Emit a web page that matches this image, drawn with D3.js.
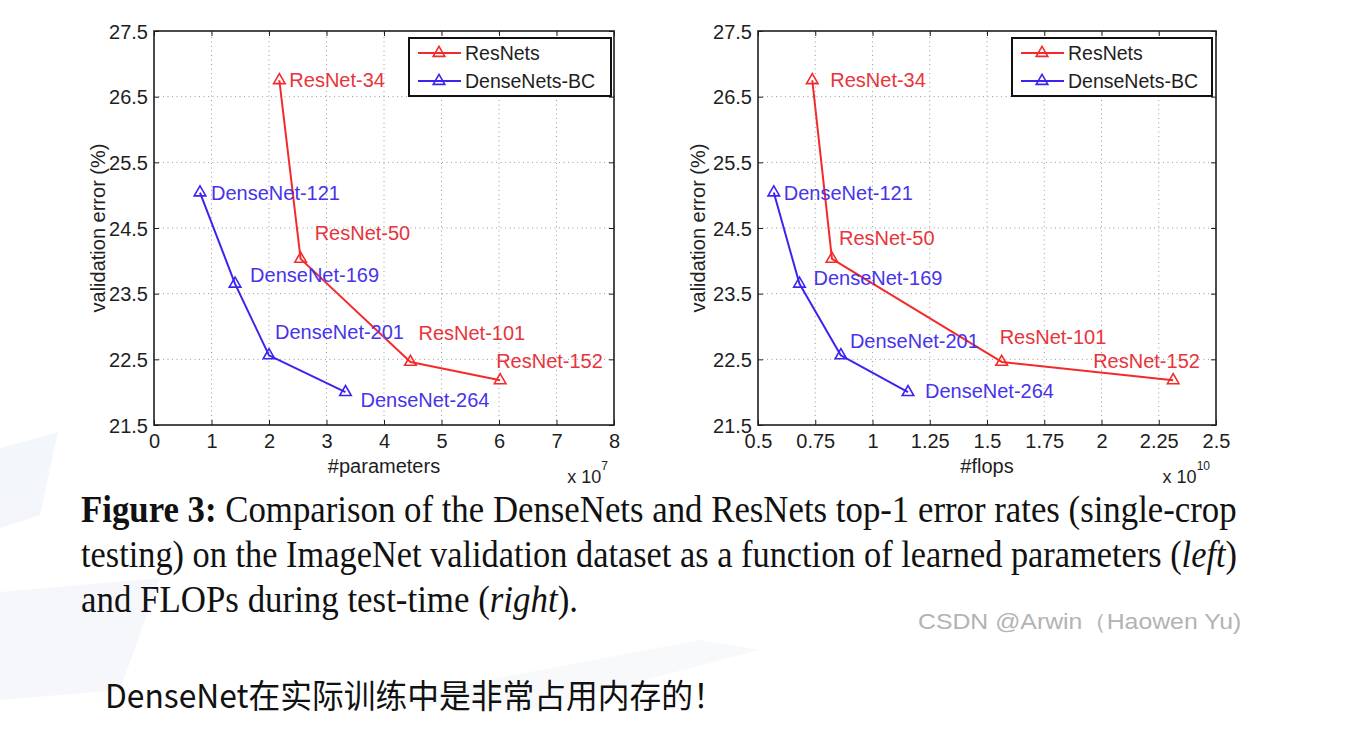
<!DOCTYPE html>
<html>
<head>
<meta charset="utf-8">
<script src="https://cdn.jsdelivr.net/npm/d3@7"></script>
<style>
  html, body { margin: 0; padding: 0; background: #ffffff; }
  svg { display: block; }
</style>
</head>
<body>
<svg id="chart" width="1368" height="732"></svg>
<script>
// ---------------- DATA ----------------
const resnetModels = ["ResNet-34", "ResNet-50", "ResNet-101", "ResNet-152"];
const resnetParams = [2.18, 2.55, 4.46, 6.02];      // x 10^7
const resnetFlops  = [0.737, 0.823, 1.564, 2.313];  // x 10^10
const resnetError  = [26.75, 24.03, 22.46, 22.18];  // %

const densenetModels = ["DenseNet-121", "DenseNet-169", "DenseNet-201", "DenseNet-264"];
const densenetParams = [0.80, 1.41, 2.00, 3.33];
const densenetFlops  = [0.569, 0.681, 0.862, 1.155];
const densenetError  = [25.04, 23.65, 22.56, 22.00];

const seriesNames = ["ResNets", "DenseNets-BC"];
const yTicks = [21.5, 22.5, 23.5, 24.5, 25.5, 26.5, 27.5];
const xTicksParams = [0, 1, 2, 3, 4, 5, 6, 7, 8];
const xTicksFlops = [0.5, 0.75, 1, 1.25, 1.5, 1.75, 2, 2.25, 2.5];

const yTitle = "validation error (%)";
const xTitleLeft = "#parameters";
const xTitleRight = "#flops";
const expLeft = "7";
const expRight = "10";

const captionBold = "Figure 3:";
const captionLine1 = " Comparison of the DenseNets and ResNets top-1 error rates (single-crop";
const captionLine2a = "testing) on the ImageNet validation dataset as a function of learned parameters (";
const captionLine2i = "left";
const captionLine2b = ")";
const captionLine3a = "and FLOPs during test-time (";
const captionLine3i = "right";
const captionLine3b = ").";
const watermark = "CSDN @Arwin（Haowen Yu)";
const noteText = "DenseNet在实际训练中是非常占用内存的！";

// ---------------- STYLE / LAYOUT ----------------
const RED = "#f42a2a", BLUE = "#3b24f0";
const RED_TXT = "#e8343a", BLUE_TXT = "#4634ea";
const AX = "#1e1e1e";
const FONT = "Arial, 'Liberation Sans', Helvetica, sans-serif";

const svg = d3.select("#chart");

// faint background decorations
const deco = svg.append("g").attr("opacity", 0.7);
deco.append("path").attr("d", "M0,448 L58,432 L40,515 L0,528 Z").attr("fill", "#eef2f9");
deco.append("path").attr("d", "M0,592 L160,578 L120,690 L0,700 Z").attr("fill", "#f3f5fa");
deco.append("path").attr("d", "M380,700 L700,640 L760,650 L520,712 Z").attr("fill", "#f4f6fa");

const yScale = d3.scaleLinear().domain([21.5, 27.5]).range([425, 31]);

const panels = [
  {
    x: d3.scaleLinear().domain([0, 8]).range([154, 614]),
    ticks: xTicksParams, resX: resnetParams, denX: densenetParams,
    xTitle: xTitleLeft, exp: expLeft, yTitleX: 98,
    legend: { x: 409, y: 38, w: 202, h: 58 },
    resOff: [[10, 0], [14, -26], [8, -29], [-4, -19]],
    denOff: [[11, 0], [15, -9], [6, -23], [15, 8]]
  },
  {
    x: d3.scaleLinear().domain([0.5, 2.5]).range([758, 1216]),
    ticks: xTicksFlops, resX: resnetFlops, denX: densenetFlops,
    xTitle: xTitleRight, exp: expRight, yTitleX: 698,
    legend: { x: 1012, y: 38, w: 200, h: 58 },
    resOff: [[18, 0], [7, -21], [-2, -25], [-80, -19]],
    denOff: [[10, 0], [14, -6], [9, -14], [17, -1]]
  }
];

const tri = d3.symbol().type(d3.symbolTriangle).size(58);

panels.forEach(p => {
  const g = svg.append("g");
  const [x0, x1] = p.x.range();
  const [yb, yt] = yScale.range();

  // grid
  const grid = g.append("g").attr("stroke", "#9a9a9a").attr("stroke-width", 1)
    .attr("stroke-dasharray", "1,3.5");
  p.ticks.slice(1, -1).forEach(t => {
    grid.append("line").attr("x1", p.x(t)).attr("x2", p.x(t)).attr("y1", yb).attr("y2", yt);
  });
  yTicks.slice(1, -1).forEach(t => {
    grid.append("line").attr("x1", x0).attr("x2", x1).attr("y1", yScale(t)).attr("y2", yScale(t));
  });

  // axes
  const fmtX = d => String(d);
  const axB = g.append("g").attr("transform", `translate(0,${yb})`)
    .call(d3.axisBottom(p.x).tickValues(p.ticks).tickFormat(fmtX).tickSizeInner(-5).tickSizeOuter(0).tickPadding(9));
  const axT = g.append("g").attr("transform", `translate(0,${yt})`)
    .call(d3.axisTop(p.x).tickValues(p.ticks).tickFormat("").tickSizeInner(-5).tickSizeOuter(0));
  const axL = g.append("g").attr("transform", `translate(${x0},0)`)
    .call(d3.axisLeft(yScale).tickValues(yTicks).tickFormat(d3.format(".1f")).tickSizeInner(-5).tickSizeOuter(0).tickPadding(6));
  const axR = g.append("g").attr("transform", `translate(${x1},0)`)
    .call(d3.axisRight(yScale).tickValues(yTicks).tickFormat("").tickSizeInner(-5).tickSizeOuter(0));
  [axB, axT, axL, axR].forEach(a => {
    a.select(".domain").remove();
    a.selectAll(".tick line").attr("stroke", AX).attr("stroke-width", 1);
    a.selectAll("text").attr("fill", AX).style("font-family", FONT).style("font-size", "20px");
  });
  axL.selectAll("text").attr("dy", "0.35em");

  // frame
  g.append("rect").attr("x", x0).attr("y", yt).attr("width", x1 - x0).attr("height", yb - yt)
    .attr("fill", "none").attr("stroke", AX).attr("stroke-width", 1.6);

  // titles
  g.append("text").attr("transform", `translate(${p.yTitleX},228) rotate(-90)`)
    .attr("text-anchor", "middle").attr("dy", "0.35em")
    .style("font-family", FONT).style("font-size", "20px").attr("fill", AX).text(yTitle);
  g.append("text").attr("x", (x0 + x1) / 2).attr("y", 473).attr("text-anchor", "middle")
    .style("font-family", FONT).style("font-size", "20px").attr("fill", AX).text(p.xTitle);
  const ex = g.append("text").attr("x", x1 - 6).attr("y", 483).attr("text-anchor", "end")
    .style("font-family", FONT).style("font-size", "18px").attr("fill", AX);
  ex.append("tspan").text("x 10");
  ex.append("tspan").attr("dy", -13).style("font-size", "12px").text(p.exp);

  // series
  const series = [
    { xs: p.resX, ys: resnetError, names: resnetModels, color: RED, txt: RED_TXT, off: p.resOff },
    { xs: p.denX, ys: densenetError, names: densenetModels, color: BLUE, txt: BLUE_TXT, off: p.denOff }
  ];
  const line = d3.line().x(d => p.x(d[0])).y(d => yScale(d[1]));
  series.forEach(s => {
    const pts = s.xs.map((v, i) => [v, s.ys[i]]);
    g.append("path").datum(pts).attr("d", line).attr("fill", "none")
      .attr("stroke", s.color).attr("stroke-width", 2).attr("stroke-linejoin", "round");
    g.selectAll(null).data(pts).enter().append("path")
      .attr("d", tri).attr("transform", d => `translate(${p.x(d[0])},${yScale(d[1])})`)
      .attr("fill", "none").attr("stroke", s.color).attr("stroke-width", 1.6);
    g.selectAll(null).data(pts).enter().append("text")
      .attr("x", (d, i) => p.x(d[0]) + s.off[i][0])
      .attr("y", (d, i) => yScale(d[1]) + s.off[i][1])
      .attr("dy", "0.35em")
      .style("font-family", FONT).style("font-size", "20px").attr("fill", s.txt)
      .text((d, i) => s.names[i]);
  });

  // legend
  const L = p.legend;
  const lg = g.append("g");
  lg.append("rect").attr("x", L.x).attr("y", L.y).attr("width", L.w).attr("height", L.h)
    .attr("fill", "#fff").attr("stroke", "#111").attr("stroke-width", 2);
  [RED, BLUE].forEach((c, i) => {
    const yy = L.y + 15 + i * 28;
    lg.append("line").attr("x1", L.x + 9).attr("x2", L.x + 52).attr("y1", yy).attr("y2", yy)
      .attr("stroke", c).attr("stroke-width", 2);
    lg.append("path").attr("d", tri).attr("transform", `translate(${L.x + 30},${yy})`)
      .attr("fill", "none").attr("stroke", c).attr("stroke-width", 1.6);
    lg.append("text").attr("x", L.x + 56).attr("y", yy).attr("dy", "0.35em")
      .style("font-family", FONT).style("font-size", "19.5px").attr("fill", AX).text(seriesNames[i]);
  });
});

// ---------------- caption ----------------
function fitText(sel, x, w) {
  const nat = sel.node().getComputedTextLength();
  sel.attr("x", 0).attr("transform", `translate(${x},${+sel.attr("y")}) scale(${w / nat},1)`).attr("y", 0);
}
const CF = "'Liberation Serif', 'Times New Roman', serif";
const cap = svg.append("g").style("font-family", CF).style("font-size", "38px").attr("fill", "#111");
const l1 = cap.append("text").attr("y", 522);
l1.append("tspan").style("font-weight", "bold").text(captionBold);
l1.append("tspan").text(captionLine1);
fitText(l1, 81, 1156);
const l2 = cap.append("text").attr("y", 567);
l2.append("tspan").text(captionLine2a);
l2.append("tspan").style("font-style", "italic").text(captionLine2i);
l2.append("tspan").text(captionLine2b);
fitText(l2, 81, 1156);
const l3 = cap.append("text").attr("y", 612);
l3.append("tspan").text(captionLine3a);
l3.append("tspan").style("font-style", "italic").text(captionLine3i);
l3.append("tspan").text(captionLine3b);
fitText(l3, 81, 497);

// watermark
const wm = svg.append("text").attr("y", 629).style("font-family", FONT).style("font-size", "22px")
  .attr("fill", "#b3b3b3").text(watermark);
fitText(wm, 918, 324);

// note
const nt = svg.append("text").attr("y", 708).style("font-family", "'Noto Sans CJK SC', 'Noto Sans', sans-serif")
  .style("font-size", "33px").attr("fill", "#111").text(noteText);
fitText(nt, 105, 620);
</script>
</body>
</html>
